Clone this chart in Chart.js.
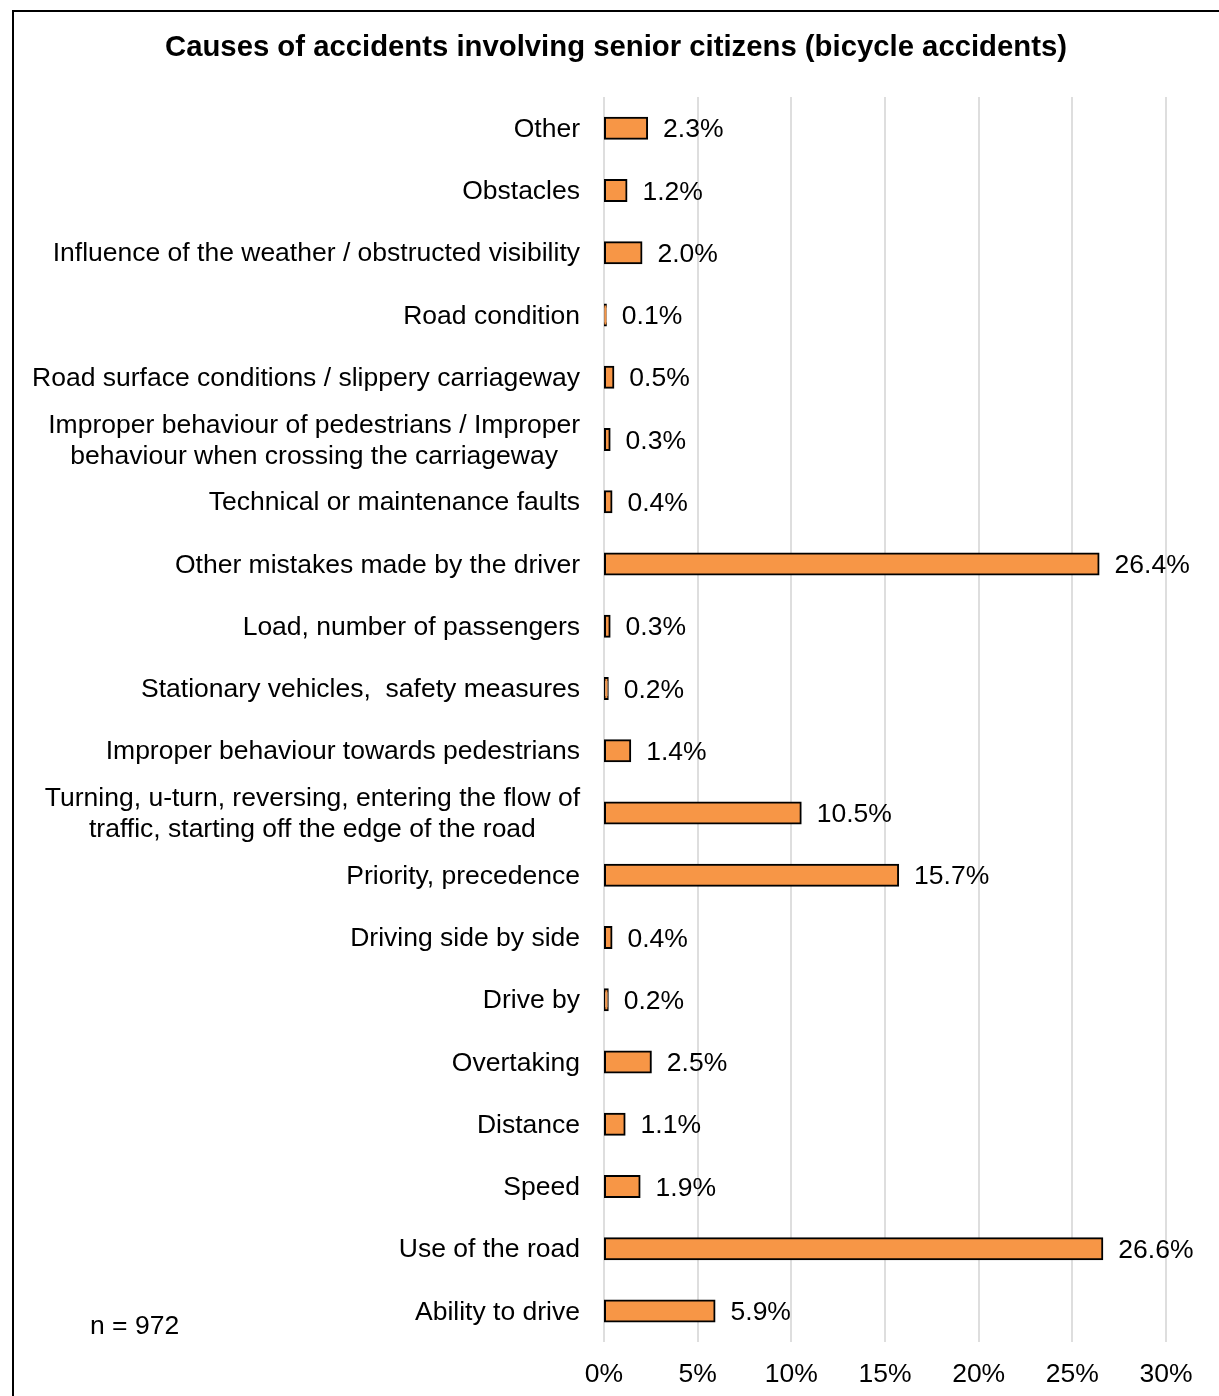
<!DOCTYPE html>
<html>
<head>
<meta charset="utf-8">
<script src="https://cdn.jsdelivr.net/npm/chart.js@4/dist/chart.umd.min.js"></script>
<style>
  html, body { margin: 0; padding: 0; background: #fff; }
  #wrap { position: relative; width: 1219px; height: 1396px; }
</style>
</head>
<body>
<div id="wrap"><canvas id="causes-chart"></canvas></div>
<script>
const categories = [
  ["Other"],
  ["Obstacles"],
  ["Influence of the weather / obstructed visibility"],
  ["Road condition"],
  ["Road surface conditions / slippery carriageway"],
  ["Improper behaviour of pedestrians / Improper", "behaviour when crossing the carriageway"],
  ["Technical or maintenance faults"],
  ["Other mistakes made by the driver"],
  ["Load, number of passengers"],
  ["Stationary vehicles,  safety measures"],
  ["Improper behaviour towards pedestrians"],
  ["Turning, u-turn, reversing, entering the flow of", "traffic, starting off the edge of the road"],
  ["Priority, precedence"],
  ["Driving side by side"],
  ["Drive by"],
  ["Overtaking"],
  ["Distance"],
  ["Speed"],
  ["Use of the road"],
  ["Ability to drive"],
];
const shares = [2.3, 1.2, 2.0, 0.1, 0.5, 0.3, 0.4, 26.4, 0.3, 0.2, 1.4, 10.5, 15.7, 0.4, 0.2, 2.5, 1.1, 1.9, 26.6, 5.9];
const chartTitle = "Causes of accidents involving senior citizens (bicycle accidents)";
const sampleNote = "n = 972";

const FONT = "'Liberation Sans', Arial, sans-serif";
const TEXT_SIZE = 26.5;

// frame, title, category labels, value labels and the sample size note
const decorations = {
  id: "decorations",
  beforeDraw(chart) {
    const c = chart.ctx;
    c.save();
    c.fillStyle = "#fff";
    c.fillRect(0, 0, chart.width, chart.height);
    c.strokeStyle = "#000";
    c.lineWidth = 2;
    c.beginPath();
    c.moveTo(13, chart.height + 5);
    c.lineTo(13, 11);
    c.lineTo(chart.width + 5, 11);
    c.stroke();
    c.restore();
  },
  afterDraw(chart) {
    const c = chart.ctx;
    const yScale = chart.scales.y;
    const xScale = chart.scales.x;
    c.save();
    c.fillStyle = "#000";
    c.textBaseline = "middle";

    c.font = "bold 29.3px " + FONT;
    c.textAlign = "center";
    c.fillText(chartTitle, 616, 48);

    c.font = TEXT_SIZE + "px " + FONT;
    c.textAlign = "left";
    c.fillText(sampleNote, 90, 1327);

    // category names: block right-aligned, lines centred within the block
    const right = yScale.right - 24;
    const lineH = 31;
    categories.forEach((lines, i) => {
      const y = yScale.getPixelForTick(i) + 1.5;
      const blockW = Math.max(...lines.map(l => c.measureText(l).width));
      const cx = right - blockW / 2;
      c.textAlign = "center";
      lines.forEach((l, j) => {
        c.fillText(l, cx, y + (j - (lines.length - 1) / 2) * lineH);
      });
    });

    // value labels after each bar end
    c.textAlign = "left";
    shares.forEach((v, i) => {
      const x = xScale.getPixelForValue(v);
      const y = yScale.getPixelForTick(i) + 2;
      c.fillText(v.toFixed(1) + "%", x + 16, y);
    });
    c.restore();
  },
};

const ctx = document.getElementById("causes-chart");

new Chart(ctx, {
  type: "bar",
  data: {
    labels: categories.map(l => l.join(" ")),
    datasets: [
      {
        data: shares,
        backgroundColor: "#F79646",
        borderColor: "#000",
        borderWidth: 2,
        borderSkipped: false,
        inflateAmount: 1,
        barThickness: 21,
      },
    ],
  },
  options: {
    indexAxis: "y",
    responsive: true,
    maintainAspectRatio: false,
    animation: false,
    layout: {
      padding: { top: 97, right: 53, bottom: 0, left: 0 },
    },
    plugins: {
      legend: { display: false },
      tooltip: { enabled: false },
    },
    scales: {
      x: {
        min: 0,
        max: 30,
        afterFit(scale) {
          scale.height = 54;
        },
        border: { display: false },
        grid: {
          color: "#dedede",
          lineWidth: 2,
          drawTicks: false,
        },
        ticks: {
          stepSize: 5,
          padding: 17,
          color: "#000",
          font: { family: FONT, size: TEXT_SIZE },
          callback: v => v + "%",
        },
      },
      y: {
        afterFit(scale) {
          scale.width = 604;
        },
        border: { display: false },
        grid: { display: false, drawTicks: false },
        ticks: {
          color: "rgba(0,0,0,0)",
          font: { family: FONT, size: TEXT_SIZE },
        },
      },
    },
  },
  plugins: [decorations],
});
</script>
</body>
</html>
